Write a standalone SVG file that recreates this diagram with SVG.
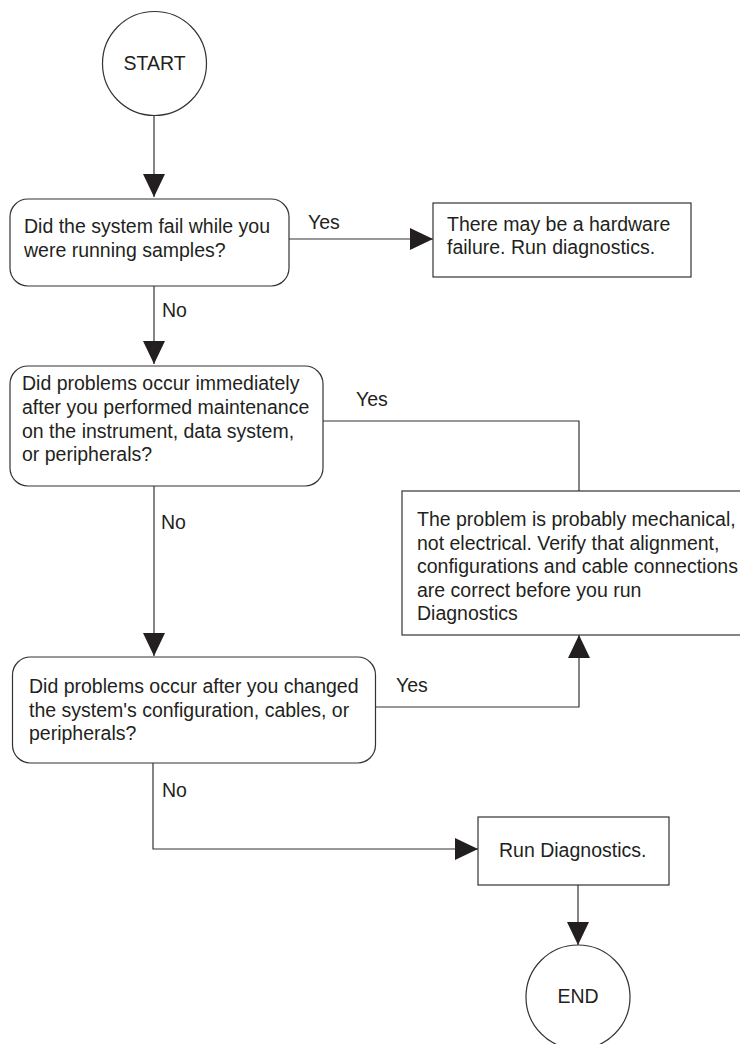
<svg xmlns="http://www.w3.org/2000/svg" width="740" height="1044" viewBox="0 0 740 1044">
<style>
.shape{fill:#fff;stroke:#333;stroke-width:1.2}
.conn{fill:none;stroke:#333;stroke-width:1.2}
text{font-family:"Liberation Sans",Arial,sans-serif;font-size:19.5px;fill:#231f20}
.c{text-anchor:middle}
</style>
<defs>
<marker id="ah" markerUnits="userSpaceOnUse" markerWidth="23" markerHeight="22" refX="23" refY="11" orient="auto">
<path d="M0,0 L23,11 L0,22 z" fill="#231f20"/>
</marker>
</defs>
<rect width="740" height="1044" fill="#fff"/>
<g id="connectors">
<path class="conn" d="M154,115 V197" marker-end="url(#ah)"/>
<path class="conn" d="M289,239 H433" marker-end="url(#ah)"/>
<path class="conn" d="M154,286 V364" marker-end="url(#ah)"/>
<path class="conn" d="M323,421 H579 V491"/>
<path class="conn" d="M154,486 V656" marker-end="url(#ah)"/>
<path class="conn" d="M376,707 H579 V635" marker-end="url(#ah)"/>
<path class="conn" d="M153,763 V849 H478" marker-end="url(#ah)"/>
<path class="conn" d="M578,885 V945" marker-end="url(#ah)"/>
<text x="308" y="229">Yes</text>
<text x="162" y="317">No</text>
<text x="356" y="406">Yes</text>
<text x="161" y="529">No</text>
<text x="396" y="692">Yes</text>
<text x="162" y="797">No</text>
</g>
<g id="start">
<circle class="shape" cx="154.5" cy="63.5" r="52"/>
<text class="c" x="154.5" y="70">START</text>
</g>
<g id="q1">
<rect class="shape" x="10" y="199" width="279" height="87" rx="18"/>
<text x="24" y="233">Did the system fail while you</text>
<text x="24" y="257">were running samples?</text>
</g>
<g id="hardware">
<rect class="shape" x="433" y="203" width="258" height="74"/>
<text x="447" y="231">There may be a hardware</text>
<text x="447" y="254">failure. Run diagnostics.</text>
</g>
<g id="q2">
<rect class="shape" x="10" y="366" width="313" height="120" rx="18"/>
<text x="22" y="390">Did problems occur immediately</text>
<text x="22" y="414">after you performed maintenance</text>
<text x="22" y="438">on the instrument, data system,</text>
<text x="22" y="461">or peripherals?</text>
</g>
<g id="mechanical">
<rect class="shape" x="402" y="491" width="360" height="144"/>
<text x="417" y="526">The problem is probably mechanical,</text>
<text x="417" y="550">not electrical. Verify that alignment,</text>
<text x="417" y="573">configurations and cable connections</text>
<text x="417" y="597">are correct before you run</text>
<text x="417" y="620">Diagnostics</text>
</g>
<g id="q3">
<rect class="shape" x="12.5" y="657" width="363" height="106" rx="18"/>
<text x="29" y="693">Did problems occur after you changed</text>
<text x="29" y="717">the system's configuration, cables, or</text>
<text x="29" y="740">peripherals?</text>
</g>
<g id="rundiag">
<rect class="shape" x="478" y="817" width="191" height="68"/>
<text x="499" y="857">Run Diagnostics.</text>
</g>
<g id="end">
<circle class="shape" cx="578" cy="997" r="52"/>
<text class="c" x="578" y="1003">END</text>
</g>
</svg>
